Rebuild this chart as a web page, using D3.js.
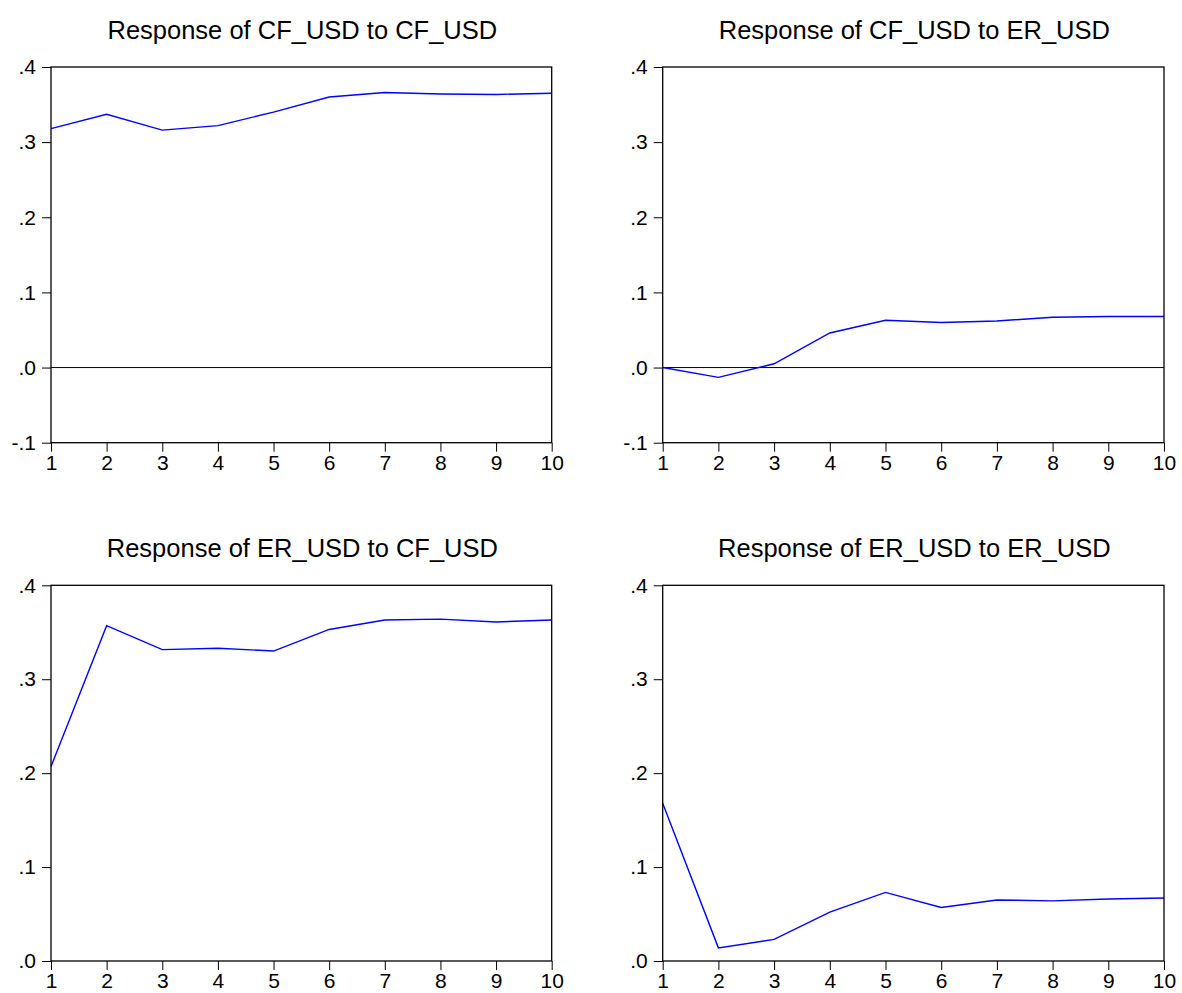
<!DOCTYPE html>
<html>
<head>
<meta charset="utf-8">
<script src="https://cdn.jsdelivr.net/npm/d3@7"></script>
<style>
  html, body { margin: 0; padding: 0; background: #fff; }
  svg { display: block; }
  text { font-family: "Liberation Sans", Arial, sans-serif; fill: #000; }
</style>
</head>
<body>
<svg id="chart" width="1182" height="993"></svg>
<script>
// ---- data ----
const periods = [1, 2, 3, 4, 5, 6, 7, 8, 9, 10];
const titles = [
  "Response of CF_USD to CF_USD",
  "Response of CF_USD to ER_USD",
  "Response of ER_USD to CF_USD",
  "Response of ER_USD to ER_USD"
];
const cfToCf = [0.318, 0.337, 0.316, 0.322, 0.340, 0.360, 0.366, 0.364, 0.3635, 0.365];
const cfToEr = [0.000, -0.013, 0.005, 0.046, 0.063, 0.060, 0.062, 0.067, 0.068, 0.068];
const erToCf = [0.207, 0.357, 0.3315, 0.333, 0.330, 0.353, 0.363, 0.364, 0.361, 0.363];
const erToEr = [0.168, 0.014, 0.023, 0.052, 0.073, 0.057, 0.065, 0.064, 0.066, 0.067];
const yTicksTop = [-0.1, 0.0, 0.1, 0.2, 0.3, 0.4];
const yTicksBottom = [0.0, 0.1, 0.2, 0.3, 0.4];
const yDomainTop = [-0.1, 0.4];
const yDomainBottom = [0.0, 0.4];

// ---- layout ----
const panels = [
  { title: titles[0], values: cfToCf, x0: 51, x1: 551.7, y0: 67, y1: 442.7, domain: yDomainTop, ticks: yTicksTop, zero: true },
  { title: titles[1], values: cfToEr, x0: 662.7, x1: 1164, y0: 67, y1: 442.7, domain: yDomainTop, ticks: yTicksTop, zero: true },
  { title: titles[2], values: erToCf, x0: 51, x1: 551.7, y0: 585.3, y1: 961, domain: yDomainBottom, ticks: yTicksBottom, zero: false },
  { title: titles[3], values: erToEr, x0: 662.7, x1: 1164, y0: 585.3, y1: 961, domain: yDomainBottom, ticks: yTicksBottom, zero: false }
];

const svg = d3.select("#chart");
const fmt = v => {
  const s = (Math.round(v * 10) / 10).toFixed(1);
  return s.replace(/^(-?)0\./, "$1.");
};

panels.forEach(p => {
  const x = d3.scaleLinear().domain([1, 10]).range([p.x0, p.x1]);
  const y = d3.scaleLinear().domain(p.domain).range([p.y1, p.y0]);
  const g = svg.append("g");

  // title
  g.append("text")
    .attr("x", (p.x0 + p.x1) / 2 + 1)
    .attr("y", p.y0 - 28)
    .attr("text-anchor", "middle")
    .style("font-size", "25.5px")
    .text(p.title);

  // y axis
  const ya = d3.axisLeft(y).tickValues(p.ticks).tickFormat(fmt).tickSize(9).tickPadding(6);
  const yg = g.append("g").attr("transform", `translate(${p.x0},0)`).call(ya);
  yg.select(".domain").remove();
  yg.selectAll("line").attr("stroke", "#000").attr("stroke-width", 1);
  yg.selectAll("text").style("font-size", "21px").style("font-family", "Liberation Sans, Arial, sans-serif");

  // x axis
  const xa = d3.axisBottom(x).tickValues(periods).tickFormat(d3.format("d")).tickSize(9).tickPadding(3);
  const xg = g.append("g").attr("transform", `translate(0,${p.y1})`).call(xa);
  xg.select(".domain").remove();
  xg.selectAll("line").attr("stroke", "#000").attr("stroke-width", 1);
  xg.selectAll("text").style("font-size", "21px").style("font-family", "Liberation Sans, Arial, sans-serif");

  // zero line
  if (p.zero) {
    g.append("line")
      .attr("x1", p.x0).attr("x2", p.x1)
      .attr("y1", y(0)).attr("y2", y(0))
      .attr("stroke", "#000").attr("stroke-width", 1);
  }

  // series line
  g.append("path")
    .datum(p.values)
    .attr("fill", "none")
    .attr("stroke", "#0000ff")
    .attr("stroke-width", 1.4)
    .attr("d", d3.line().x((d, i) => x(periods[i])).y(d => y(d)));

  // frame
  g.append("rect")
    .attr("x", p.x0).attr("y", p.y0)
    .attr("width", p.x1 - p.x0).attr("height", p.y1 - p.y0)
    .attr("fill", "none").attr("stroke", "#000").attr("stroke-width", 1.3);
});
</script>
</body>
</html>
